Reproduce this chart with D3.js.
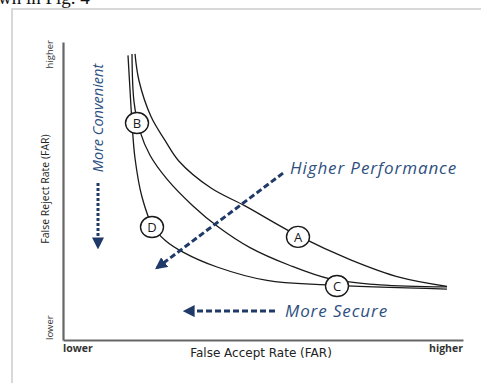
<!DOCTYPE html>
<html>
<head>
<meta charset="utf-8">
<script src="https://cdn.jsdelivr.net/npm/d3@7"></script>
<style>
  body { margin: 0; background: #fff; }
  svg { display: block; }
</style>
</head>
<body>
<div id="chart"></div>
<script>
// Curves, in axis units (0 = lower, 1 = higher)
var curveA = [[0.18, 0.96], [0.19, 0.87], [0.22, 0.75], [0.255, 0.67], [0.29, 0.60], [0.37, 0.51],
              [0.455, 0.45], [0.5875, 0.35], [0.7175, 0.27], [0.8425, 0.21], [0.96, 0.18]];
var curveB = [[0.1725, 0.96], [0.1775, 0.80], [0.1925, 0.70], [0.2175, 0.62], [0.26, 0.54],
              [0.325, 0.45], [0.3875, 0.38], [0.4675, 0.31], [0.5675, 0.25], [0.6675, 0.205],
              [0.7925, 0.185], [0.96, 0.178]];
var curveC = [[0.1625, 0.955], [0.1675, 0.84], [0.1725, 0.73], [0.18, 0.61], [0.1975, 0.48],
              [0.225, 0.38], [0.255, 0.335], [0.30, 0.295], [0.385, 0.245], [0.51, 0.20],
              [0.66, 0.185], [0.96, 0.171]];
var curves = [curveA, curveB, curveC];

var markerNames = ["A", "B", "C", "D"];
var markerX = [0.5875, 0.185, 0.685, 0.2225];
var markerY = [0.346, 0.728, 0.181, 0.379];

// Arrows: [x1, y1, x2, y2] in axis units, tip is the second point
var arrowNames = ["More Convenient", "Higher Performance", "More Secure"];
var arrowFrom = [[0.0875, 0.527], [0.55, 0.56], [0.53, 0.097]];
var arrowTo = [[0.0875, 0.312], [0.235, 0.242], [0.305, 0.097]];

var width = 481, height = 383;
var margin = { top: 42, right: 18, bottom: 43, left: 63 };

var x = d3.scaleLinear([0, 1], [margin.left, width - margin.right]);
var y = d3.scaleLinear([0, 1], [height - margin.bottom, margin.top]);

var svg = d3.select("#chart").append("svg")
    .attr("width", width)
    .attr("height", height)
    .attr("font-family", "'Open Sans', sans-serif");

// cropped caption line from the page above the figure
svg.append("text")
    .attr("x", -2).attr("y", 4)
    .attr("font-family", "'Liberation Serif', serif")
    .attr("font-size", 19)
    .attr("fill", "#111")
    .text("wn in Fig. 4");

// light frame of the figure
svg.append("path")
    .attr("d", "M12,383 V9 H481")
    .attr("fill", "none")
    .attr("stroke", "#d8d8d8")
    .attr("stroke-width", 2);

// axes without ticks, just the lines
svg.append("g")
    .attr("transform", `translate(0,${y(0)})`)
    .call(d3.axisBottom(x).tickValues([]).tickSizeOuter(0))
    .call(g => g.select(".domain").attr("stroke", "#666").attr("stroke-width", 2.2));
svg.append("g")
    .attr("transform", `translate(${x(0)},0)`)
    .call(d3.axisLeft(y).tickValues([]).tickSizeOuter(0))
    .call(g => g.select(".domain").attr("stroke", "#666").attr("stroke-width", 2.2));

// axis titles and end labels
svg.append("text")
    .attr("x", 261).attr("y", 357)
    .attr("text-anchor", "middle")
    .attr("font-family", "'DejaVu Sans', sans-serif")
    .attr("font-size", 12)
    .attr("fill", "#222")
    .text("False Accept Rate (FAR)");
svg.append("text")
    .attr("transform", "translate(49,189) rotate(-90)")
    .attr("text-anchor", "middle")
    .attr("font-size", 10.5)
    .attr("fill", "#222")
    .text("False Reject Rate (FAR)");
svg.append("text")
    .attr("x", x(0)).attr("y", 352)
    .attr("font-size", 10.5).attr("font-weight", "bold").attr("fill", "#333")
    .text("lower");
svg.append("text")
    .attr("x", x(1)).attr("y", 352)
    .attr("text-anchor", "end")
    .attr("font-size", 10.5).attr("font-weight", "bold").attr("fill", "#333")
    .text("higher");
svg.append("text")
    .attr("transform", `translate(53,${y(0)}) rotate(-90)`)
    .attr("font-size", 9.5).attr("fill", "#333")
    .text("lower");
svg.append("text")
    .attr("transform", `translate(53,${y(1) - 2}) rotate(-90)`)
    .attr("text-anchor", "end")
    .attr("font-size", 9.5).attr("fill", "#333")
    .text("higher");

// the three curves
var line = d3.line()
    .x(d => x(d[0]))
    .y(d => y(d[1]))
    .curve(d3.curveCatmullRom.alpha(0.5));

svg.append("g")
    .selectAll("path")
    .data(curves)
    .join("path")
    .attr("d", line)
    .attr("fill", "none")
    .attr("stroke", "#1a1a1a")
    .attr("stroke-width", 1.3);

// dashed arrows
var navy = "#1f3a68";
svg.append("defs").append("marker")
    .attr("id", "head")
    .attr("viewBox", "0 0 10 10")
    .attr("refX", 8).attr("refY", 5)
    .attr("markerWidth", 4).attr("markerHeight", 4)
    .attr("markerUnits", "strokeWidth")
    .attr("orient", "auto")
    .append("path")
    .attr("d", "M0,0 L10,5 L0,10 z")
    .attr("fill", navy);

var dashes = ["3,2", "6,3", "6,3"];
svg.append("g")
    .selectAll("line")
    .data(arrowNames)
    .join("line")
    .attr("x1", (d, i) => x(arrowFrom[i][0]))
    .attr("y1", (d, i) => y(arrowFrom[i][1]))
    .attr("x2", (d, i) => x(arrowTo[i][0]))
    .attr("y2", (d, i) => y(arrowTo[i][1]))
    .attr("stroke", navy)
    .attr("stroke-width", 3)
    .attr("stroke-dasharray", (d, i) => dashes[i])
    .attr("marker-end", "url(#head)");

// arrow captions
var captionColor = "#2e4f80";
svg.append("text")
    .attr("transform", "translate(103,118) rotate(-90)")
    .attr("text-anchor", "middle")
    .attr("font-size", 14.5).attr("font-style", "italic")
    .attr("fill", captionColor)
    .text(arrowNames[0]);
svg.append("text")
    .attr("x", 290).attr("y", 174)
    .attr("font-size", 17).attr("font-style", "italic")
    .attr("letter-spacing", 0.9)
    .attr("fill", captionColor)
    .text(arrowNames[1]);
svg.append("text")
    .attr("x", 285).attr("y", 317)
    .attr("font-size", 17).attr("font-style", "italic")
    .attr("letter-spacing", 0.9)
    .attr("fill", captionColor)
    .text(arrowNames[2]);

// circled letters on the curves
var marks = svg.append("g")
    .selectAll("g")
    .data(markerNames)
    .join("g")
    .attr("transform", (d, i) => `translate(${x(markerX[i])},${y(markerY[i])})`);
marks.append("ellipse")
    .attr("rx", 11.5).attr("ry", 10.5)
    .attr("fill", "#fff")
    .attr("stroke", "#1a1a1a")
    .attr("stroke-width", 1.4);
marks.append("text")
    .attr("text-anchor", "middle")
    .attr("dy", "0.36em")
    .attr("font-size", 13)
    .attr("fill", "#1a1a1a")
    .text(d => d);
</script>
</body>
</html>
